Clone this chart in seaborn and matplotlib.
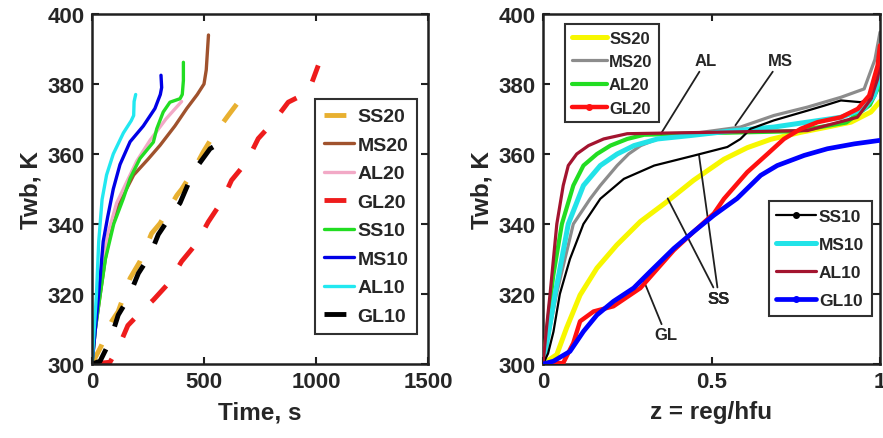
import numpy as np
import pandas as pd
import matplotlib
matplotlib.use("Agg")
import matplotlib.pyplot as plt
from matplotlib.lines import Line2D
import seaborn as sns

# ---------------- Left panel: Time (s) vs Twb (K) ----------------
l_ss20_t = [0, 40, 88, 117, 170, 214, 266, 304, 379, 401, 450, 497, 534, 608, 655]
l_ss20_T = [300, 305, 312.2, 315, 324.5, 329.3, 337.3, 340.2, 348.2, 350, 355, 360.6, 364.5, 371, 375]
l_ms20_t = [0, 15, 37, 59, 89, 130, 186, 250, 304, 370, 423, 470, 500, 510, 515, 520]
l_ms20_T = [300, 310, 320, 330, 340, 347, 354, 358.5, 362.5, 368, 373, 377, 380, 384, 389, 394]
l_al20_t = [0, 20, 40, 70, 110, 155, 200, 260, 330, 400]
l_al20_T = [300, 315, 325, 337, 346, 352, 358, 364, 370, 375]
l_gl20_t = [0, 80, 120, 160, 220, 274, 341, 400, 467, 519, 579, 623, 690, 742, 809, 876, 966, 1010]
l_gl20_T = [300, 300.5, 305, 311, 315, 318.3, 323, 329.3, 334.5, 340.6, 346.4, 352.5, 357.7, 364.4, 369.1, 374.8, 377.7, 385.3]
l_ss10_t = [0, 15, 37, 60, 97, 140, 170, 214, 274, 289, 318, 348, 393, 403, 408, 408]
l_ss10_T = [300, 310, 320, 330, 340, 347.3, 353, 358.7, 363.4, 367.2, 372, 374.8, 375.8, 377, 381, 386.2]
l_ms10_t = [0, 15, 30, 50, 70, 95, 125, 170, 229, 281, 305, 311, 308]
l_ms10_T = [300, 310, 320, 335, 342, 350, 357, 363.5, 368, 373, 377, 379, 382.5]
l_al10_t = [0, 10, 20, 30, 45, 65, 95, 140, 175, 186, 188, 195]
l_al10_T = [300, 310, 320, 335, 347, 354, 360, 366, 369.5, 371, 375, 377]
l_gl10_t = [0, 36, 80, 117, 162, 207, 259, 296, 348, 393, 453, 527, 594]
l_gl10_T = [300, 300.8, 306.5, 314, 318.8, 325.9, 331.1, 337, 342, 346, 355, 361.5, 364]

# ---------------- Right panel: z = reg/hfu vs Twb (K) ----------------
r_ss20_z = [0, 0.041, 0.07, 0.11, 0.16, 0.219, 0.289, 0.368, 0.447, 0.537, 0.606, 0.676, 0.765, 0.844, 0.914, 0.973, 1.0]
r_ss20_T = [300, 302.7, 310.3, 319.7, 327.4, 334, 340.7, 346.4, 352.5, 358.5, 361.8, 364.2, 366.2, 367.7, 369.1, 372, 375]
r_ms20_z = [0, 0.02, 0.04, 0.09, 0.14, 0.17, 0.22, 0.254, 0.29, 0.34, 0.44, 0.586, 0.685, 0.785, 0.884, 0.953, 0.985, 1.0]
r_ms20_T = [300, 310, 320, 340, 347.2, 351, 356.7, 360, 362.4, 364.3, 365.8, 367.7, 371, 373.4, 376.2, 378.6, 387, 394.8]
r_al20_z = [0, 0.015, 0.03, 0.056, 0.09, 0.12, 0.16, 0.2, 0.25, 0.3, 0.5, 0.75, 0.9, 0.97, 1.0]
r_al20_T = [300, 312, 325, 340, 351, 356.7, 360, 362.4, 364.3, 365.5, 366, 366.5, 369, 374, 380]
r_gl20_z = [0, 0.06, 0.09, 0.11, 0.15, 0.209, 0.289, 0.388, 0.447, 0.507, 0.537, 0.606, 0.666, 0.715, 0.765, 0.815, 0.884, 0.934, 0.968, 0.993, 1.0]
r_gl20_T = [300, 300.3, 306, 312.2, 315, 316.5, 321.7, 332.5, 337.8, 343, 347.2, 354.8, 360, 364.3, 367.2, 369.1, 370.5, 372.9, 376.7, 385.3, 391]
r_ss10_z = [0, 0.015, 0.031, 0.05, 0.08, 0.12, 0.17, 0.24, 0.33, 0.45, 0.547, 0.586, 0.616, 0.685, 0.785, 0.834, 0.884, 0.943, 0.975, 1.0]
r_ss10_T = [300, 303, 309.2, 320, 330, 340, 347.2, 352.9, 356.7, 359.6, 362, 364.3, 367.2, 369.6, 372.4, 373.8, 375.3, 374.8, 376, 388]
r_ms10_z = [0, 0.015, 0.036, 0.075, 0.12, 0.17, 0.22, 0.27, 0.34, 0.44, 0.55, 0.685, 0.884, 0.953, 0.983, 1.0]
r_ms10_T = [300, 308, 320, 340, 351, 356.7, 360, 362.4, 364.3, 365.3, 366.5, 367.7, 370.5, 372.9, 376.7, 382.4]
r_al10_z = [0, 0.01, 0.021, 0.041, 0.06, 0.075, 0.1, 0.135, 0.18, 0.25, 0.5, 0.785, 0.933, 0.973, 0.993, 1.0]
r_al10_T = [300, 310, 320, 340, 351, 356.7, 360, 362.4, 364.3, 365.8, 366.2, 366.7, 370.5, 375.7, 381.5, 386]
r_gl10_z = [0, 0.031, 0.08, 0.12, 0.16, 0.209, 0.269, 0.318, 0.388, 0.447, 0.507, 0.576, 0.646, 0.695, 0.775, 0.844, 0.924, 1.0]
r_gl10_T = [300, 300.8, 303.6, 309.3, 314, 317.9, 321.7, 326.4, 333, 337.8, 342.5, 347.3, 353.9, 356.7, 359.6, 361.5, 362.9, 363.9]

left_labels = ["SS20", "MS20", "AL20", "GL20", "SS10", "MS10", "AL10", "GL10"]
top_labels = ["SS20", "MS20", "AL20", "GL20"]
bot_labels = ["SS10", "MS10", "AL10", "GL10"]

# ---------------- style ----------------
sns.set_style("ticks")
plt.rcParams["font.family"] = ["Liberation Sans", "DejaVu Sans"]
plt.rcParams["font.weight"] = "bold"
plt.rcParams["axes.labelweight"] = "bold"
TXT = "#262626"
plt.rcParams["text.color"] = TXT
plt.rcParams["axes.labelcolor"] = TXT
plt.rcParams["xtick.color"] = TXT
plt.rcParams["ytick.color"] = TXT

fig = plt.figure(figsize=(8.83, 4.39), dpi=100)
axL = fig.add_axes([92 / 883, 74 / 439, 336 / 883, 350 / 439])
axR = fig.add_axes([543 / 883, 74 / 439, 337 / 883, 350 / 439])

DASH = (0, (4.5, 5))

left_series = [
    (l_ss20_t, l_ss20_T, "#E8B030", 3.5, DASH),
    (l_ms20_t, l_ms20_T, "#A0522D", 2.4, "-"),
    (l_al20_t, l_al20_T, "#F2A9C6", 2.4, "-"),
    (l_gl20_t, l_gl20_T, "#EE1C1C", 3.5, DASH),
    (l_ss10_t, l_ss10_T, "#22DD22", 2.4, "-"),
    (l_ms10_t, l_ms10_T, "#0000E6", 2.4, "-"),
    (l_al10_t, l_al10_T, "#22E8F0", 2.4, "-"),
    (l_gl10_t, l_gl10_T, "#000000", 3.5, DASH),
]
left_handles = []
for (x, y, c, lw, ls), lab in zip(left_series, left_labels):
    df = pd.DataFrame({"x": x, "y": y})
    sns.lineplot(data=df, x="x", y="y", ax=axL, color=c, linewidth=lw,
                 linestyle=ls, sort=False, estimator=None, legend=False)
    left_handles.append(Line2D([], [], color=c, linewidth=lw, linestyle=ls))

right_series = [
    ("SS20", r_ss20_z, r_ss20_T, "#F7F700", 3.6, None, 1),
    ("MS20", r_ms20_z, r_ms20_T, "#8C8C8C", 2.3, None, 2),
    ("AL20", r_al20_z, r_al20_T, "#22DD22", 3.0, None, 3),
    ("MS10", r_ms10_z, r_ms10_T, "#22E3E8", 3.6, None, 4),
    ("SS10", r_ss10_z, r_ss10_T, "#000000", 1.6, ".", 5),
    ("AL10", r_al10_z, r_al10_T, "#A3142F", 2.3, None, 6),
    ("GL20", r_gl20_z, r_gl20_T, "#FF1010", 3.2, ".", 7),
    ("GL10", r_gl10_z, r_gl10_T, "#0000FF", 3.4, ".", 8),
]
rh = {}
for lab, x, y, c, lw, mk, z in right_series:
    df = pd.DataFrame({"x": x, "y": y})
    sns.lineplot(data=df, x="x", y="y", ax=axR, color=c, linewidth=lw,
                 sort=False, estimator=None, legend=False, zorder=z)
    rh[lab] = Line2D([], [], color=c, linewidth=lw, marker=mk, markersize=8)

for ax in (axL, axR):
    ax.set_ylim(300, 400)
    ax.set_yticks([300, 320, 340, 360, 380, 400])
    for s in ax.spines.values():
        s.set_visible(True)
        s.set_linewidth(1.8)
        s.set_color("#202020")
    ax.tick_params(direction="in", length=5, width=1.5, top=True, right=True,
                   labelsize=16, pad=5, color="#202020")
    ax.set_ylabel("Twb, K", fontsize=17.5, fontweight="bold", labelpad=4)

axL.set_xlim(0, 1500)
axL.set_xticks([0, 500, 1000, 1500])
axL.set_xlabel("Time, s", fontsize=17.5, fontweight="bold", labelpad=6)

axR.set_xlim(0, 1)
axR.set_xticks([0, 0.5, 1])
axR.set_xticklabels(["0", "0.5", "1"])
axR.set_xlabel("z = reg/hfu", fontsize=17.5, fontweight="bold", labelpad=6)

legkw = dict(frameon=True, fancybox=False, shadow=False, framealpha=1,
             edgecolor="#303030", borderaxespad=0, handletextpad=0.15,
             prop={"weight": "bold", "size": 14})
legL = axL.legend(left_handles, left_labels, loc="upper right",
                  bbox_to_anchor=(0.967, 0.757), handlelength=1.55,
                  labelspacing=0.56, borderpad=0.45, **legkw)
legL.get_frame().set_linewidth(1.5)

legkw1 = dict(legkw)
legkw1["prop"] = {"weight": "bold", "size": 12}
leg1 = axR.legend([rh[k] for k in top_labels], top_labels, loc="upper left",
                  bbox_to_anchor=(0.065, 0.971), handlelength=2.1,
                  labelspacing=0.5, borderpad=0.4, **legkw1)
leg1.get_frame().set_linewidth(1.5)
axR.add_artist(leg1)
legkw2 = dict(legkw)
legkw2["prop"] = {"weight": "bold", "size": 12.5}
leg2 = axR.legend([rh[k] for k in bot_labels], bot_labels, loc="lower right",
                  bbox_to_anchor=(0.976, 0.137), handlelength=2.3,
                  labelspacing=0.75, borderpad=0.45, **legkw2)
leg2.get_frame().set_linewidth(1.5)

# annotations on the right panel
akw = dict(fontsize=12, fontweight="bold", ha="center", va="center",
           arrowprops=dict(arrowstyle="-", color="#202020", lw=1.3, shrinkA=0, shrinkB=0))
axR.annotate("AL", xy=(0.35, 365.8), xytext=(0.484, 386.6), **akw)
axR.annotate("MS", xy=(0.571, 368.2), xytext=(0.704, 386.6), **akw)
axR.annotate("SS", xy=(0.37, 347.3), xytext=(0.522, 318.8), **akw)
axR.annotate("SS", xy=(0.463, 359.6), xytext=(0.522, 318.8), **akw)
axR.annotate("GL", xy=(0.296, 324.5), xytext=(0.365, 308.3), **akw)

fig.savefig("out.png", dpi=100)
